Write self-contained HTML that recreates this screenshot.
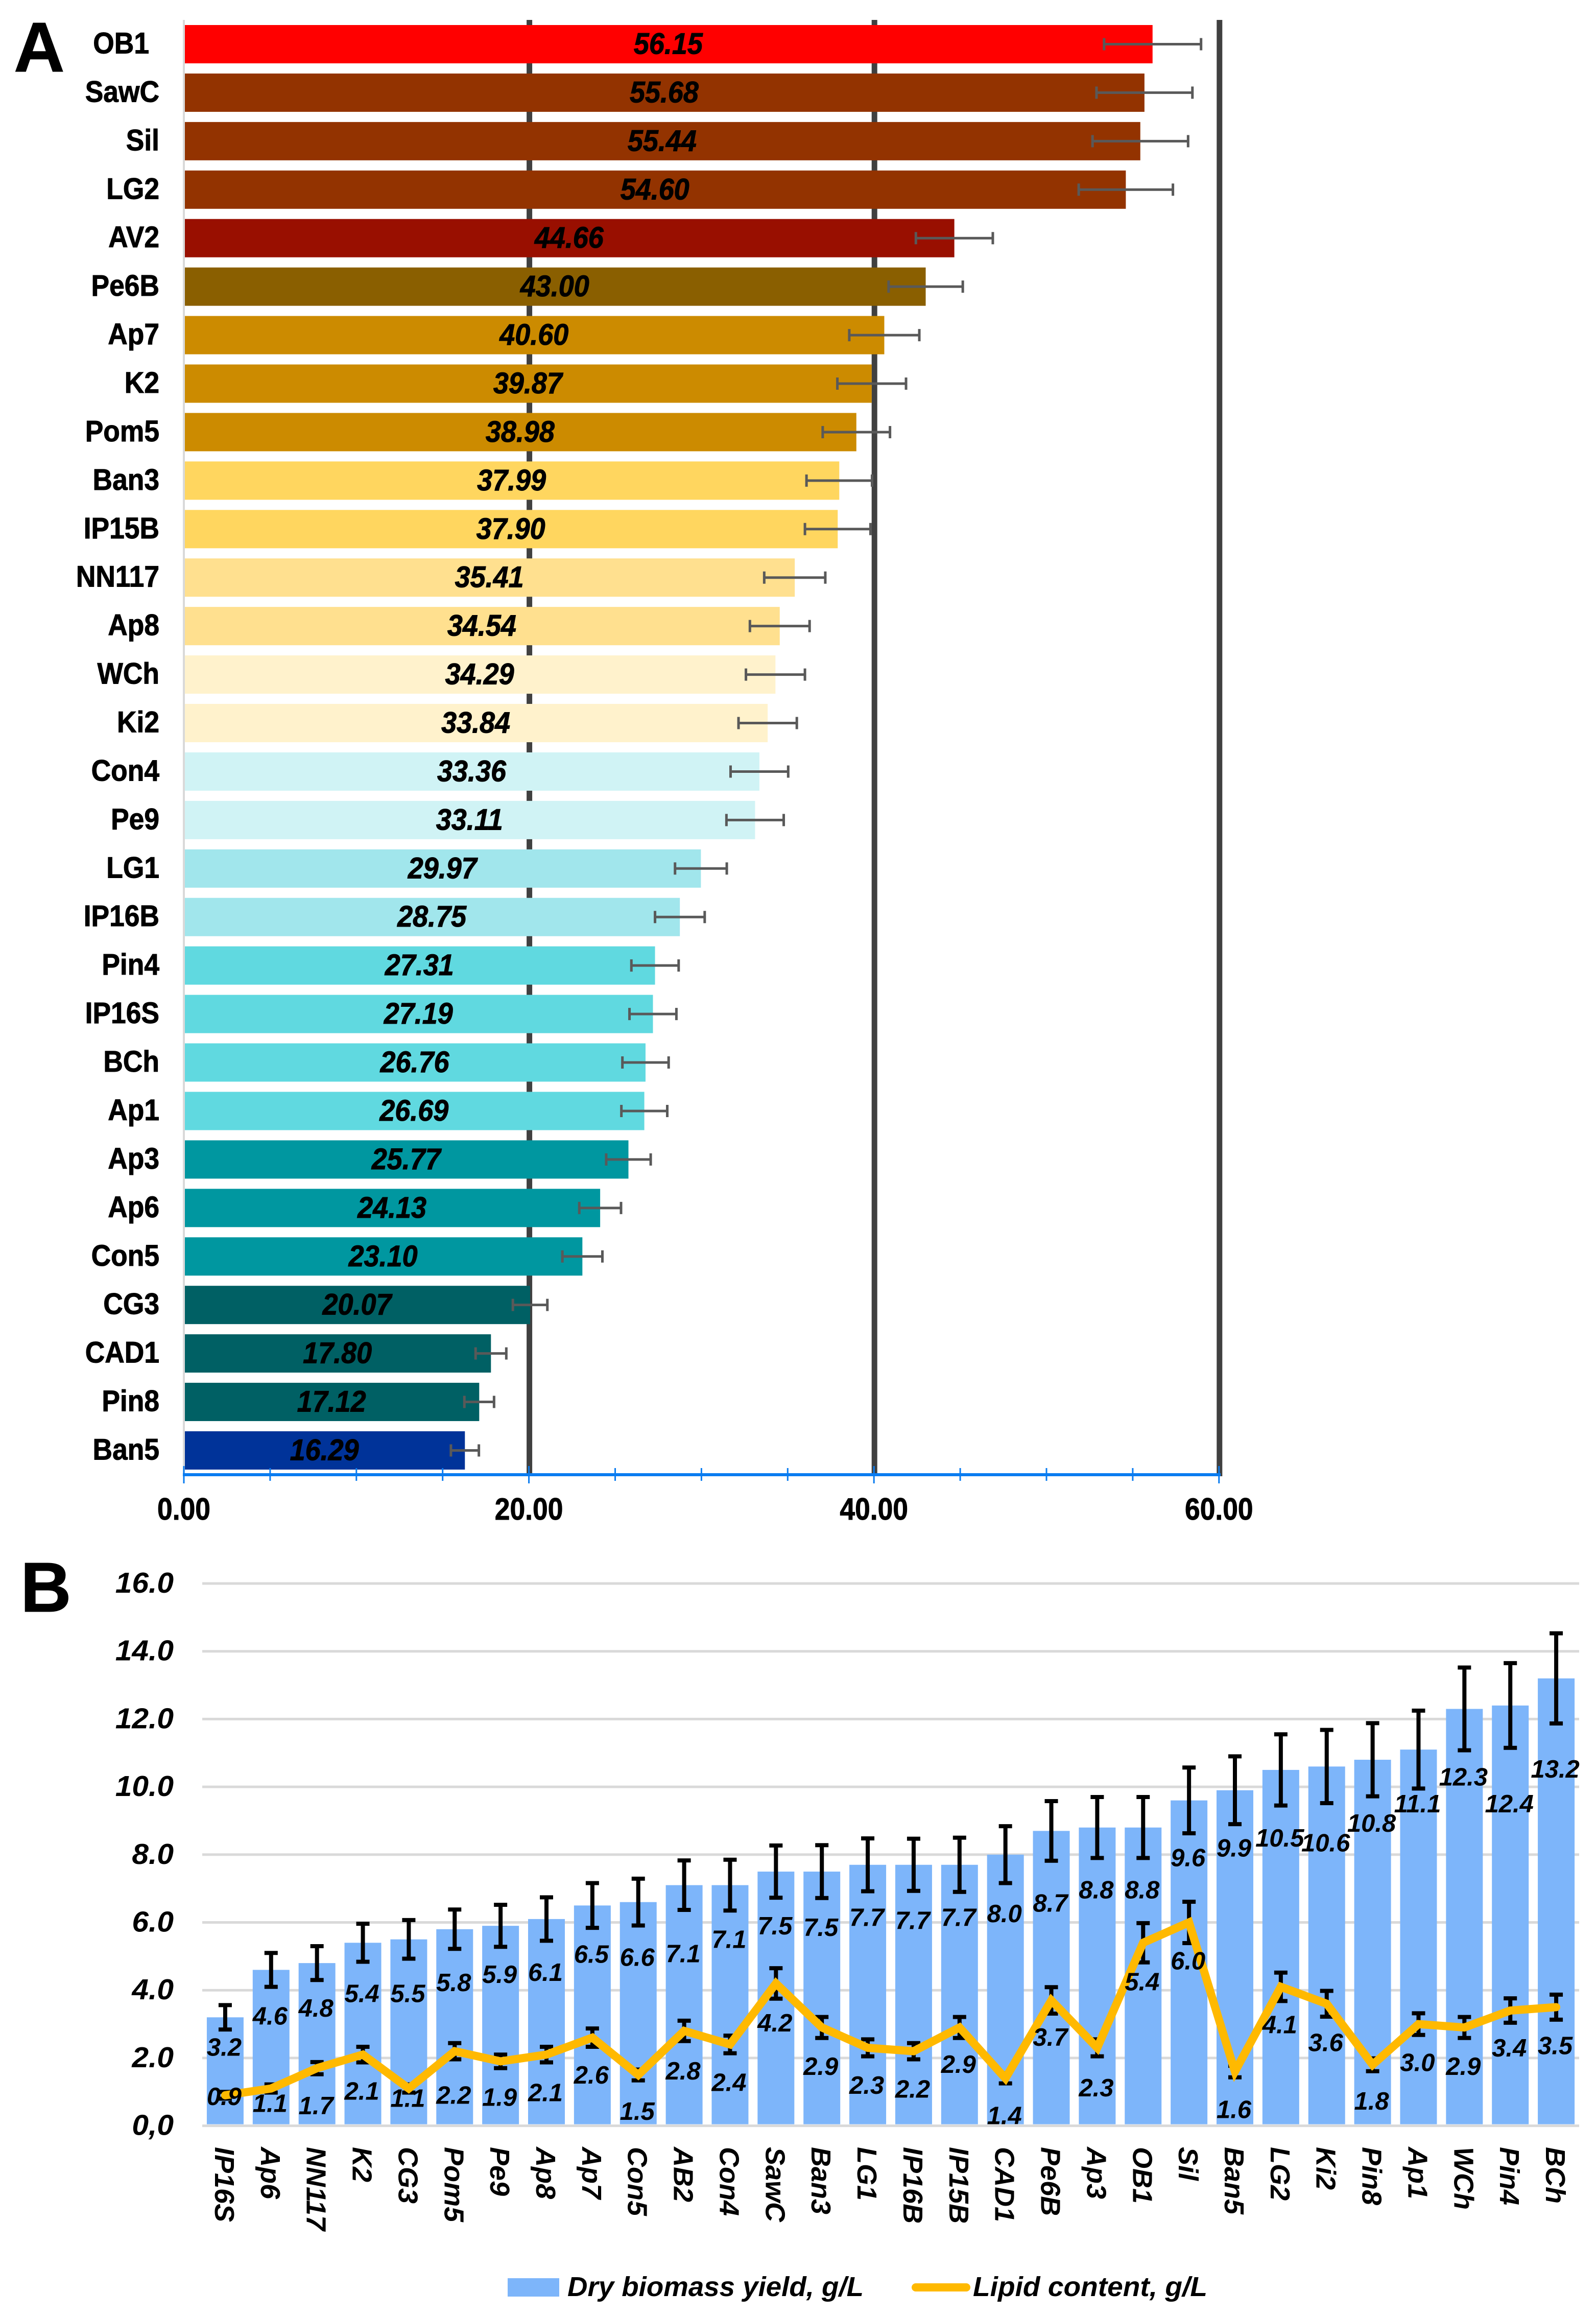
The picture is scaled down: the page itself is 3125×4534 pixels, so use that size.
<!DOCTYPE html>
<html lang="en">
<head>
<meta charset="utf-8">
<title>Biomass and lipid charts</title>
<style>
html,body{margin:0;padding:0;background:#fff;}
svg{display:block;}
text{font-family:"Liberation Sans",sans-serif;fill:#000;}
.b{font-weight:bold;stroke:#000;stroke-width:1;}
.bi{font-weight:bold;font-style:italic;}
</style>
</head>
<body>
<svg id="chart" xmlns="http://www.w3.org/2000/svg" width="3125" height="4534" viewBox="0 0 3125 4534">
  <rect x="0" y="0" width="3125" height="4534" fill="#ffffff"/>
  <g id="panelA"></g>
  <g id="panelB"></g>
  <text class="b" x="27" y="140" font-size="138">A</text>
  <text class="b" x="40" y="3155" font-size="138">B</text>
  <g>
    <rect x="994" y="4460" width="101" height="36" fill="#7db5fa"/>
    <text class="bi" x="1111" y="4495" font-size="54" textLength="580" lengthAdjust="spacingAndGlyphs">Dry biomass yield, g/L</text>
    <line x1="1793" y1="4478" x2="1892" y2="4478" stroke="#ffb900" stroke-width="16" stroke-linecap="round"/>
    <text class="bi" x="1905" y="4495" font-size="54" textLength="459" lengthAdjust="spacingAndGlyphs">Lipid content, g/L</text>
  </g>
</svg>
<script>
// ---------- Panel A data ----------
const strainsA = ["OB1","SawC","Sil","LG2","AV2","Pe6B","Ap7","K2","Pom5","Ban3","IP15B","NN117","Ap8","WCh","Ki2","Con4","Pe9","LG1","IP16B","Pin4","IP16S","BCh","Ap1","Ap3","Ap6","Con5","CG3","CAD1","Pin8","Ban5"];
const valuesA = [56.15,55.68,55.44,54.60,44.66,43.00,40.60,39.87,38.98,37.99,37.90,35.41,34.54,34.29,33.84,33.36,33.11,29.97,28.75,27.31,27.19,26.76,26.69,25.77,24.13,23.10,20.07,17.80,17.12,16.29];
const errorsA = [2.81,2.78,2.77,2.73,2.23,2.15,2.03,1.99,1.95,1.90,1.90,1.77,1.73,1.71,1.69,1.67,1.66,1.50,1.44,1.37,1.36,1.34,1.33,1.29,1.21,1.16,1.00,0.89,0.86,0.81];
const gridTicksA = [20,40,60];
const majorTicksA = [0,20,40,60];
const minorTicksA = [5,10,15,25,30,35,45,50,55];
const tickLabelsA = ["0.00","20.00","40.00","60.00"];

// ---------- Panel B data ----------
const strainsB = ["IP16S","Ap6","NN117","K2","CG3","Pom5","Pe9","Ap8","Ap7","Con5","AB2","Con4","SawC","Ban3","LG1","IP16B","IP15B","CAD1","Pe6B","Ap3","OB1","Sil","Ban5","LG2","Ki2","Pin8","Ap1","WCh","Pin4","BCh"];
const biomass = [3.2,4.6,4.8,5.4,5.5,5.8,5.9,6.1,6.5,6.6,7.1,7.1,7.5,7.5,7.7,7.7,7.7,8.0,8.7,8.8,8.8,9.6,9.9,10.5,10.6,10.8,11.1,12.3,12.4,13.2];
const biomassErr = [0.36,0.50,0.50,0.56,0.57,0.58,0.62,0.64,0.66,0.69,0.73,0.75,0.77,0.78,0.78,0.77,0.80,0.84,0.88,0.90,0.90,0.97,1.00,1.05,1.08,1.08,1.15,1.22,1.25,1.33];
const lipid = [0.9,1.1,1.7,2.1,1.1,2.2,1.9,2.1,2.6,1.5,2.8,2.4,4.2,2.9,2.3,2.2,2.9,1.4,3.7,2.3,5.4,6.0,1.6,4.1,3.6,1.8,3.0,2.9,3.4,3.5];
const lipidErr = [0.10,0.12,0.18,0.23,0.12,0.24,0.20,0.23,0.27,0.16,0.30,0.26,0.45,0.31,0.25,0.24,0.31,0.15,0.39,0.25,0.58,0.61,0.17,0.42,0.38,0.19,0.32,0.31,0.36,0.37];
const tickValuesB = [0,2,4,6,8,10,12,14,16];
const tickLabelsB = ["0,0","2.0","4.0","6.0","8.0","10.0","12.0","14.0","16.0"];

// ---------- Styling and hand-placed label offsets (not data) ----------
const barColorsA = ["#ff0000","#933300","#933300","#933300","#990f00","#8a5f00","#cc8b00","#cc8b00","#cc8b00","#ffd65f","#ffd65f","#ffe08f","#ffe08f","#fff2cc","#fff2cc","#d0f3f5","#d0f3f5","#a1e6ec","#a1e6ec","#60d9e0","#60d9e0","#60d9e0","#60d9e0","#0097a0","#0097a0","#0097a0","#006064","#006064","#006064","#003399"];
const barLabelDrop = [58,90,88,99,106,104,95,104,95,108,134,106,106,109,103,109,103,115,141,122,122,112,113,133,149,124,106,133,192,177];
const lineLabelDrop = [2,29,73,71,19,86,70,74,73,71,78,74,77,76,73,74,72,73,72,78,76,75,74,74,76,71,75,76,73,75];

const NS = "http://www.w3.org/2000/svg";
function mk(parent, tag, attrs, content) {
  const el = document.createElementNS(NS, tag);
  for (const k in attrs) el.setAttribute(k, attrs[k]);
  if (content !== undefined) el.textContent = content;
  parent.appendChild(el);
  return el;
}
function placed(x, y, sx, rot) {
  return "translate(" + x + " " + y + ")" + (rot ? " rotate(" + rot + ")" : "") + " scale(" + sx + " 1)";
}

// ---------- Panel A ----------
const gA = document.getElementById("panelA");
const xA = v => 360 + v * 33.78;
const rowTopA = i => 49 + i * 94.93;
const barHA = 75;

gridTicksA.forEach(t => {
  const el = mk(gA, "line", {x1:xA(t)+1, x2:xA(t)+1, y1:39, y2:2890, stroke:"#404040", "stroke-width":11});
  
  
});
const axisYA = mk(gA, "line", {x1:360, x2:360, y1:39, y2:2887, stroke:"#d9d9d9", "stroke-width":4});



strainsA.forEach((name, i) => {
  const top = rowTopA(i), mid = top + barHA / 2;
  const bar = mk(gA, "rect", {x:xA(0)+2, y:top, width:xA(valuesA[i])-xA(0)-2, height:barHA, fill:barColorsA[i]});
  
  

  const lo = xA(valuesA[i]-errorsA[i]), hi = xA(valuesA[i]+errorsA[i]);
  const err = mk(gA, "path", {d:"M"+lo+" "+(mid-12)+"V"+(mid+12)+"M"+lo+" "+mid+"H"+hi+"M"+hi+" "+(mid-12)+"V"+(mid+12), stroke:"#595959", "stroke-width":5, fill:"none"});
  
  

  const val = mk(gA, "text", {class:"bi", "font-size":58, "text-anchor":"middle", stroke:"#000", "stroke-width":1, transform:placed((xA(0)+xA(valuesA[i]))/2, mid+19, 0.93)}, valuesA[i].toFixed(2));
  
  

  const labelRight = name === "OB1" ? 292 : 312;
  const cat = mk(gA, "text", {class:"b", "font-size":58, "text-anchor":"end", transform:placed(labelRight, mid+18, 0.92)}, name);
  
  
});

const axisXA = mk(gA, "line", {x1:358, x2:2390, y1:2887, y2:2887, stroke:"#0a7cf0", "stroke-width":6});


minorTicksA.forEach(t => {
  const el = mk(gA, "line", {x1:xA(t), x2:xA(t), y1:2874, y2:2899, stroke:"#0a7cf0", "stroke-width":3});
  
  
});
majorTicksA.forEach((t, i) => {
  const el = mk(gA, "line", {x1:xA(t), x2:xA(t), y1:2870, y2:2904, stroke:"#0a7cf0", "stroke-width":3});
  
  
  const lb = mk(gA, "text", {class:"b", "font-size":60, "text-anchor":"middle", transform:placed(xA(t), 2975, 0.89)}, tickLabelsA[i]);
  
  
});

// ---------- Panel B ----------
const gB = document.getElementById("panelB");
const yB = v => 4161.6 - v * 66.35;
const bandB = (3092 - 396) / strainsB.length;
const xB = i => 396 + bandB * (i + 0.5);

tickValuesB.forEach((t, i) => {
  const el = mk(gB, "line", {x1:396, x2:3092, y1:yB(t), y2:yB(t), stroke:"#d9d9d9", "stroke-width":5});
  
  
  const lb = mk(gB, "text", {class:"bi", "font-size":57, "text-anchor":"end", transform:placed(340, yB(t)+18, 1.03)}, tickLabelsB[i]);
  
  
});

strainsB.forEach((name, i) => {
  const bar = mk(gB, "rect", {x:xB(i)-36, y:yB(biomass[i]), width:72, height:yB(0)-yB(biomass[i])-3, fill:"#7db5fa"});
  
  
});

function drawErr(values, errs, label) {
  values.forEach((v, i) => {
    const x = xB(i), t = yB(v + errs[i]), b = yB(v - errs[i]);
    const el = mk(gB, "path", {d:"M"+(x-13)+" "+t+"H"+(x+13)+"M"+x+" "+t+"V"+b+"M"+(x-13)+" "+b+"H"+(x+13), stroke:"#000", "stroke-width":8, fill:"none"});
    
    
  });
}
drawErr(biomass, biomassErr, 'biomass-error-bar');
drawErr(lipid, lipidErr, 'lipid-error-bar');

const pts = lipid.map((v, i) => xB(i) + "," + yB(v)).join(" ");
const lipidLine = mk(gB, "polyline", {points:pts, fill:"none", stroke:"#ffb900", "stroke-width":16, "stroke-linejoin":"miter", "stroke-miterlimit":6, "stroke-linecap":"round"});



strainsB.forEach((name, i) => {
  const a = mk(gB, "text", {class:"bi", "font-size":49, "text-anchor":"middle", transform:placed(xB(i)-2, yB(biomass[i])+barLabelDrop[i]+17, 1)}, biomass[i].toFixed(1));
  
  

  const b = mk(gB, "text", {class:"bi", "font-size":49, "text-anchor":"middle", transform:placed(xB(i)-2, yB(lipid[i])+lineLabelDrop[i]+17, 1)}, lipid[i].toFixed(1));
  
  

  const c = mk(gB, "text", {class:"bi", "font-size":54, "text-anchor":"start", transform:"translate(" + (xB(i)-20) + " 4203) rotate(90)"}, name);
  
  
});
</script>
</body>
</html>
